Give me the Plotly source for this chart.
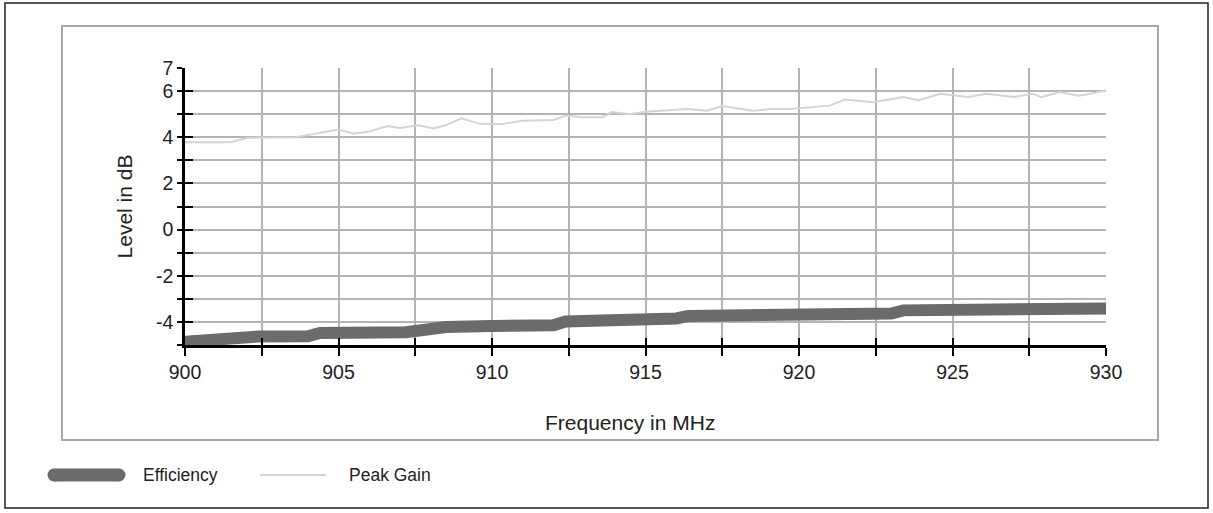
import plotly.graph_objects as go

# ---------------- data ----------------
gain_freq = [900.0, 901.5, 902.0, 903.6, 905.0, 905.5, 906.0, 906.6, 907.0, 907.6,
             908.1, 908.5, 909.0, 909.6, 910.3, 911.0, 912.0, 912.4, 912.9, 913.6,
             913.9, 914.5, 915.0, 916.4, 917.0, 917.5, 918.5, 919.1, 919.7, 920.4,
             921.0, 921.5, 922.4, 923.4, 923.9, 924.6, 925.5, 926.1, 927.0, 927.6,
             927.9, 928.5, 929.1, 929.5, 930.0]
peak_gain = [3.78, 3.78, 3.97, 4.00, 4.33, 4.15, 4.25, 4.49, 4.40, 4.52,
             4.38, 4.52, 4.82, 4.58, 4.56, 4.72, 4.75, 4.94, 4.87, 4.87,
             5.09, 5.00, 5.10, 5.22, 5.15, 5.35, 5.15, 5.22, 5.22, 5.30,
             5.37, 5.63, 5.52, 5.74, 5.60, 5.88, 5.74, 5.88, 5.74, 5.88,
             5.74, 5.96, 5.80, 5.88, 6.04]

eff_freq = [900.0, 900.9, 902.0, 902.4, 904.0, 904.4, 907.2, 907.7, 908.5, 910.0,
            912.0, 912.4, 914.0, 914.5, 916.0, 916.4, 919.2, 919.5, 923.0, 923.4,
            926.6, 927.0, 930.0]
efficiency = [-4.86, -4.76, -4.72, -4.63, -4.62, -4.48, -4.45, -4.32, -4.22, -4.18,
              -4.14, -3.98, -3.96, -3.86, -3.85, -3.74, -3.72, -3.64, -3.64, -3.50,
              -3.49, -3.42, -3.42]

x_tickvals = [900, 902.5, 905, 907.5, 910, 912.5, 915, 917.5, 920, 922.5, 925, 927.5, 930]
x_ticktext = ["900", "", "905", "", "910", "", "915", "", "920", "", "925", "", "930"]
y_tickvals = [-5, -4, -3, -2, -1, 0, 1, 2, 3, 4, 5, 6, 7]
y_ticktext = ["", "-4", "", "-2", "", "0", "", "2", "", "4", "", "6", "7"]

series_names = ["Efficiency", "Peak Gain"]
x_title = "Frequency in MHz"
y_title = "Level in dB"

# ---------------- styling ----------------
W, H = 1213, 513
L, R, T, B = 185, 1106, 68, 345   # plot area in pixels
FONT = "Arial, Liberation Sans, sans-serif"
EFF_COLOR = "#6b6b6b"
GAIN_COLOR = "#d4d4d4"
GRID = "#b4b4b4"
TXT = "#222"


def px(x):
    return (x - L) / (R - L)


def py(y):
    return (B - y) / (B - T)


fig = go.Figure()

fig.add_trace(go.Scatter(
    x=gain_freq, y=peak_gain, mode="lines", name=series_names[1],
    line=dict(color=GAIN_COLOR, width=2), showlegend=False))

end_sizes = [12 if i in (0, len(eff_freq) - 1) else 0 for i in range(len(eff_freq))]
fig.add_trace(go.Scatter(
    x=eff_freq, y=efficiency, mode="lines+markers", name=series_names[0],
    line=dict(color=EFF_COLOR, width=12),
    marker=dict(color=EFF_COLOR, size=end_sizes, line=dict(width=0)),
    showlegend=False))

# invisible helper trace so overlay axes (inner tick halves) are drawn
fig.add_trace(go.Scatter(
    x=eff_freq, y=efficiency, xaxis="x2", yaxis="y2", mode="lines",
    line=dict(width=0, color="rgba(0,0,0,0)"), hoverinfo="skip", showlegend=False))

axis_common = dict(showline=True, linecolor="black", linewidth=2.5,
                   ticks="outside", tickcolor="black", tickwidth=2,
                   gridcolor=GRID, gridwidth=2, zeroline=False,
                   tickfont=dict(family=FONT, size=19.5, color=TXT))

fig.update_layout(
    width=W, height=H, autosize=False,
    margin=dict(l=L, r=W - R, t=T, b=H - B),
    paper_bgcolor="white", plot_bgcolor="white",
    showlegend=False,
    xaxis=dict(range=[900, 930], tickmode="array", tickvals=x_tickvals,
               ticktext=x_ticktext, ticklen=8, automargin=False,
               **axis_common),
    yaxis=dict(range=[-5, 7], tickmode="array", tickvals=y_tickvals,
               ticktext=y_ticktext, ticklen=5, automargin=False,
               title=dict(text=y_title, standoff=18,
                          font=dict(family=FONT, size=21, color=TXT)),
               **axis_common),
    xaxis2=dict(range=[900, 930], overlaying="x", anchor="y", side="bottom",
                tickmode="array", tickvals=x_tickvals, ticks="inside", ticklen=7,
                tickwidth=2, tickcolor="black", showticklabels=False,
                showgrid=False, showline=False, zeroline=False),
    yaxis2=dict(range=[-5, 7], overlaying="y", anchor="x", side="left",
                tickmode="array", tickvals=y_tickvals, ticks="inside", ticklen=8,
                tickwidth=2, tickcolor="black", showticklabels=False,
                showgrid=False, showline=False, zeroline=False),
)

shapes = [
    # outer black frame
    dict(type="rect", xref="paper", yref="paper",
         x0=px(5), x1=px(1208), y0=py(508), y1=py(3),
         line=dict(color="#222", width=1.5), layer="below"),
    # inner gray chart box
    dict(type="rect", xref="paper", yref="paper",
         x0=px(62), x1=px(1158), y0=py(440), y1=py(26),
         line=dict(color="#a8a8a8", width=2), layer="below"),
    # legend samples
    dict(type="line", xref="paper", yref="paper",
         x0=px(54), x1=px(119), y0=py(475), y1=py(475),
         line=dict(color=EFF_COLOR, width=13)),
    dict(type="line", xref="paper", yref="paper",
         x0=px(260), x1=px(326), y0=py(475), y1=py(475),
         line=dict(color=GAIN_COLOR, width=2)),
]
# rounded ends of the thick legend sample
for cx in (54, 119):
    shapes.append(dict(type="circle", xref="paper", yref="paper",
                       x0=px(cx - 6.5), x1=px(cx + 6.5), y0=py(481.5), y1=py(468.5),
                       fillcolor=EFF_COLOR, line=dict(width=0)))
fig.update_layout(shapes=shapes)

# x-axis title (slightly left of plot centre, as in the reference)
fig.add_annotation(x=px(630), y=py(422), xref="paper", yref="paper",
                   text=x_title, showarrow=False, xanchor="center",
                   yanchor="middle", font=dict(family=FONT, size=21, color=TXT))

fig.add_annotation(x=px(141), y=py(475), xref="paper", yref="paper",
                   text=series_names[0], showarrow=False, xanchor="left",
                   yanchor="middle", font=dict(family=FONT, size=17.5, color=TXT))
fig.add_annotation(x=px(347), y=py(475), xref="paper", yref="paper",
                   text=series_names[1], showarrow=False, xanchor="left",
                   yanchor="middle", font=dict(family=FONT, size=17.5, color=TXT))

fig.write_html("out.html", config={"displayModeBar": False},
               post_script="document.body.style.margin='0';")
